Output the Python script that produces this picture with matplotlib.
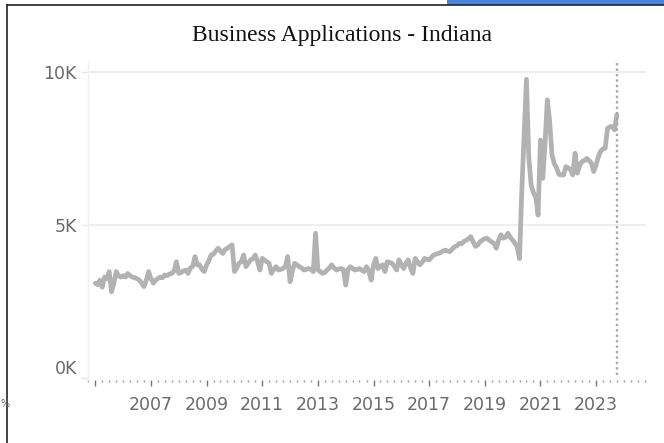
import matplotlib
matplotlib.use("Agg")
import matplotlib.pyplot as plt
import matplotlib.dates as mdates
from matplotlib.ticker import FuncFormatter, FixedLocator
import numpy as np
import pandas as pd

# monthly business applications in Indiana, thousands (Jan 2005 - Oct 2023)
apps_2005 = [3.10, 3.05, 3.20, 2.97, 3.30, 3.25, 3.48, 2.82, 3.10, 3.48, 3.35, 3.30]
apps_2006 = [3.35, 3.30, 3.42, 3.35, 3.30, 3.28, 3.25, 3.20, 3.10, 2.99, 3.20, 3.48]
apps_2007 = [3.25, 3.10, 3.20, 3.25, 3.30, 3.28, 3.37, 3.35, 3.40, 3.42, 3.50, 3.80]
apps_2008 = [3.42, 3.45, 3.50, 3.53, 3.42, 3.60, 3.65, 3.97, 3.70, 3.70, 3.55, 3.48]
apps_2009 = [3.70, 3.85, 4.02, 4.05, 4.15, 4.24, 4.15, 4.07, 4.20, 4.24, 4.30, 4.35]
apps_2010 = [3.48, 3.60, 3.75, 3.80, 4.02, 3.64, 3.75, 3.86, 3.90, 4.02, 3.80, 3.53]
apps_2011 = [3.91, 3.85, 3.80, 3.75, 3.42, 3.55, 3.64, 3.53, 3.55, 3.58, 3.65, 3.97]
apps_2012 = [3.15, 3.50, 3.75, 3.70, 3.64, 3.60, 3.53, 3.55, 3.58, 3.55, 3.48, 4.73]
apps_2013 = [3.53, 3.48, 3.42, 3.45, 3.53, 3.60, 3.70, 3.60, 3.53, 3.56, 3.58, 3.55]
apps_2014 = [3.04, 3.55, 3.64, 3.58, 3.53, 3.55, 3.58, 3.52, 3.48, 3.64, 3.50, 3.20]
apps_2015 = [3.70, 3.91, 3.58, 3.65, 3.70, 3.48, 3.80, 3.78, 3.75, 3.65, 3.53, 3.86]
apps_2016 = [3.70, 3.58, 3.75, 3.86, 3.60, 3.42, 3.91, 3.80, 3.70, 3.78, 3.91, 3.88]
apps_2017 = [3.86, 3.95, 4.02, 4.05, 4.07, 4.10, 4.15, 4.18, 4.15, 4.13, 4.22, 4.29]
apps_2018 = [4.32, 4.40, 4.38, 4.46, 4.50, 4.55, 4.62, 4.45, 4.30, 4.35, 4.45, 4.51]
apps_2019 = [4.55, 4.57, 4.50, 4.45, 4.40, 4.24, 4.50, 4.68, 4.57, 4.60, 4.73, 4.60]
apps_2020 = [4.51, 4.40, 4.30, 3.90, 6.10, 8.00, 9.75, 7.20, 6.30, 6.05, 5.90, 5.32]
apps_2021 = [7.77, 6.52, 7.60, 9.08, 8.40, 7.30, 7.00, 6.86, 6.65, 6.63, 6.63, 6.90]
apps_2022 = [6.86, 6.80, 6.63, 7.34, 6.69, 6.95, 7.07, 7.10, 7.17, 7.10, 7.02, 6.74]
apps_2023 = [6.95, 7.23, 7.40, 7.48, 7.50, 8.15, 8.20, 8.21, 8.10, 8.59]

tick_years = [2005, 2007, 2009, 2011, 2013, 2015, 2017, 2019, 2021, 2023]
tick_labels = ['', '2007', '2009', '2011', '2013', '2015', '2017', '2019', '2021', '2023']
y_ticks = [0, 5000, 10000]

values = np.concatenate([apps_2005, apps_2006, apps_2007, apps_2008, apps_2009,
                         apps_2010, apps_2011, apps_2012, apps_2013, apps_2014,
                         apps_2015, apps_2016, apps_2017, apps_2018, apps_2019,
                         apps_2020, apps_2021, apps_2022, apps_2023]) * 1000
months = pd.date_range('2005-01-01', periods=len(values), freq='MS')

fig = plt.figure(figsize=(6.64, 4.43), dpi=100)
ax = fig.add_axes([88 / 664, 1 - 380 / 443, (646 - 88) / 664, (380 - 62) / 443])

ax.plot(months, values, color='#b2b2b2', linewidth=3.4, solid_joinstyle='round',
        solid_capstyle='round', zorder=3)
ax.axvline(months[-1], ymin=0.015, ymax=1, color='#a8a8a8', linewidth=1.7,
           linestyle=(0, (1, 1.3)), zorder=4)

ax.set_xlim(pd.Timestamp('2004-09-26'), pd.Timestamp('2024-10-18'))
ax.set_ylim(-55, 10313)

ax.xaxis.set_major_locator(FixedLocator(mdates.date2num([pd.Timestamp(f'{y}-01-01') for y in tick_years])))
ax.set_xticklabels(tick_labels)
ax.xaxis.set_minor_locator(mdates.MonthLocator(bymonth=[1, 4, 7, 10]))
ax.tick_params(axis='x', which='major', length=4.5, width=1, color='#777777',
               labelsize=12.5, labelcolor='#6a6a6a', pad=7)
ax.tick_params(axis='x', which='minor', length=1.5, width=1, color='#999999')

ax.set_yticks(y_ticks)
ax.yaxis.set_major_formatter(FuncFormatter(lambda v, p: f'{int(v / 1000)}K'))
ax.tick_params(axis='y', length=5, width=1, color='#e6e6e6', labelsize=12.5,
               labelcolor='#6a6a6a', pad=3)
ylabels = ax.get_yticklabels()
for lbl in ylabels:
    lbl.set_fontfamily('DejaVu Sans')
ylabels[0].set_verticalalignment('bottom')
for lbl in ax.get_xticklabels():
    lbl.set_fontfamily('DejaVu Sans')

ax.grid(axis='y', color='#eeeeee', linewidth=1.5)
ax.yaxis.get_gridlines()[0].set_visible(False)
for s in ['top', 'right', 'bottom']:
    ax.spines[s].set_visible(False)
ax.spines['left'].set_color('#f0f0f0')
ax.spines['left'].set_linewidth(1)

fig.text(341.7 / 664, 1 - 40.7 / 443, 'Business Applications - Indiana',
         ha='center', va='baseline', fontsize=17, family='Liberation Serif', color='#111111')

# frame left over from the dashboard screenshot
fig.add_artist(plt.Line2D([7 / 664, 7 / 664], [0, 1 - 5 / 443], color='#222222', linewidth=1.2))
fig.add_artist(plt.Line2D([7 / 664, 1], [1 - 5 / 443, 1 - 5 / 443], color='#222222', linewidth=1.2))
fig.add_artist(plt.Rectangle((447 / 664, 1 - 4.5 / 443), 1 - 447 / 664, 4.5 / 443,
                             color='#4a86d6', linewidth=0))
fig.text(0.5 / 664, 1 - 404 / 443, '%', ha='left', va='center', fontsize=7, color='#666666')

fig.savefig('out.png', dpi=100)
